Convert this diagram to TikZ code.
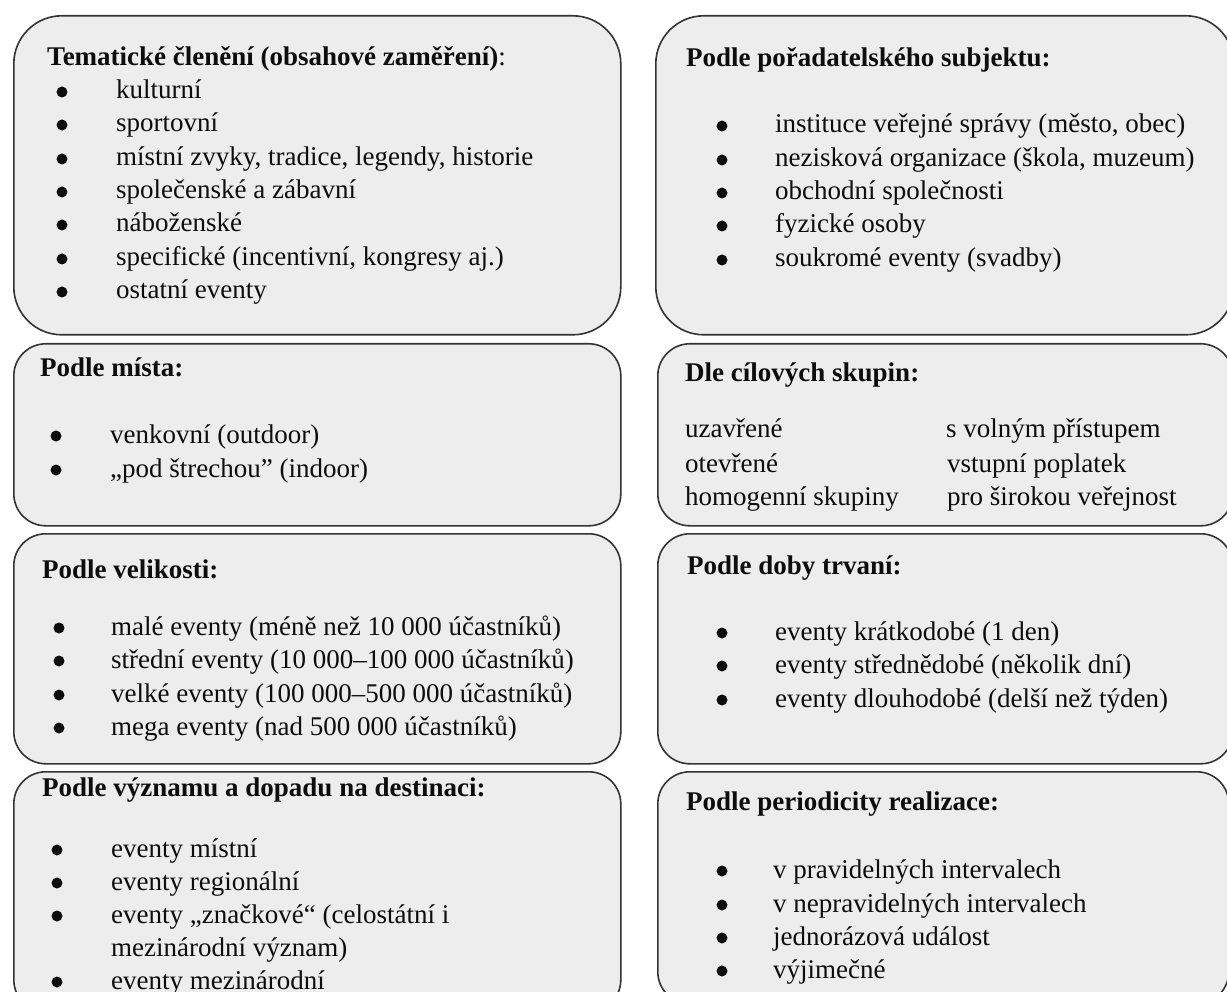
\documentclass[tikz,border=0pt]{standalone}
\usepackage{fontspec}
\setmainfont{Liberation Serif}
\begin{document}
\begin{tikzpicture}[x=1pt,y=-1pt,
  box/.style={draw=black!80, line width=1.6pt, fill=black!7, rectangle, anchor=north west, inner sep=0pt},
  txt/.style={anchor=base west, inner sep=0pt, text=black!95, font=\fontsize{27}{33.5}\selectfont},
  ttl/.style={txt, font=\fontsize{27}{33.5}\selectfont\bfseries},
  dot/.style={circle, fill=black!95, inner sep=0pt, minimum size=11pt}]
\useasboundingbox (0,0) rectangle (1227,992);
\clip (0,0) rectangle (1227,992);
\fill[white] (0,0) rectangle (1227,992);

% boxes
\node[box, rounded corners=48pt, minimum width=607pt, minimum height=319pt] (b1) at (13,15) {};
\node[box, rounded corners=48pt, minimum width=578pt, minimum height=319pt] (b2) at (655,15) {};
\node[box, rounded corners=32pt, minimum width=607pt, minimum height=182pt] (b3) at (13,343) {};
\node[box, rounded corners=32pt, minimum width=575pt, minimum height=182pt] (b4) at (657,343) {};
\node[box, rounded corners=32pt, minimum width=607pt, minimum height=230pt] (b5) at (13,533) {};
\node[box, rounded corners=32pt, minimum width=575pt, minimum height=230pt] (b6) at (657,533) {};
\node[box, rounded corners=32pt, minimum width=607pt, minimum height=240pt] (b7) at (13,771) {};
\node[box, rounded corners=32pt, minimum width=571pt, minimum height=232pt] (b8) at (657,771) {};

% box 1
\node[ttl] (t1) at (47,66) {Tematické členění (obsahové zaměření)\textmd{:}};
\foreach \y/\s [count=\i] in {99/kulturní, 132/sportovní, 166/{místní zvyky, tradice, legendy, historie}, 199/společenské a zábavní, 232/náboženské, 266/{specifické (incentivní, kongresy aj.)}, 299/ostatní eventy}{
  \node[dot] (d1\i) at (62,\y-7) {};
  \node[txt] (i1\i) at (116,\y) {\s};
}

% box 2
\node[ttl] (t2) at (686,67) {Podle pořadatelského subjektu:};
\foreach \y/\s [count=\i] in {133/{instituce veřejné správy (město, obec)}, 167/{nezisková organizace (škola, muzeum)}, 200/obchodní společnosti, 233/fyzické osoby, 267/soukromé eventy (svadby)}{
  \node[dot] (d2\i) at (722,\y-7) {};
  \node[txt] (i2\i) at (775,\y) {\s};
}

% box 3
\node[ttl] (t3) at (40,377) {Podle místa:};
\foreach \y/\s [count=\i] in {443/venkovní (outdoor), 477/„pod štrechou” (indoor)}{
  \node[dot] (d3\i) at (56,\y-7) {};
  \node[txt] (i3\i) at (110,\y) {\s};
}

% box 4
\node[ttl] (t4) at (685,382) {Dle cílových skupin:};
\node[txt] (l41) at (685,438) {uzavřené};
\node[txt] (l42) at (685,472) {otevřené};
\node[txt] (l43) at (685,505) {homogenní skupiny};
\node[txt] (r41) at (946,438) {s volným přístupem};
\node[txt] (r42) at (947,472) {vstupní poplatek};
\node[txt] (r43) at (947,505) {pro širokou veřejnost};

% box 5
\node[ttl] (t5) at (42,578) {Podle velikosti:};
\foreach \y/\s [count=\i] in {635/malé eventy (méně než 10 000 účastníků), 668/střední eventy (10 000–100 000 účastníků), 702/velké eventy (100 000–500 000 účastníků), 735/mega eventy (nad 500 000 účastníků)}{
  \node[dot] (d5\i) at (59,\y-7) {};
  \node[txt] (i5\i) at (111,\y) {\s};
}

% box 6
\node[ttl] (t6) at (687,574) {Podle doby trvaní:};
\foreach \y/\s [count=\i] in {640/eventy krátkodobé (1 den), 673/eventy střednědobé (několik dní), 707/eventy dlouhodobé (delší než týden)}{
  \node[dot] (d6\i) at (722,\y-7) {};
  \node[txt] (i6\i) at (775,\y) {\s};
}

% box 7
\node[ttl] (t7) at (42,796) {Podle významu a dopadu na destinaci:};
\foreach \y/\s [count=\i] in {857/eventy místní, 890/eventy regionální, 923/eventy „značkové“ (celostátní i, 989/eventy mezinárodní}{
  \node[dot] (d7\i) at (57,\y-7) {};
  \node[txt] (i7\i) at (111,\y) {\s};
}
\node[txt] (i7w) at (111,956) {mezinárodní význam)};

% box 8
\node[ttl] (t8) at (686,810) {Podle periodicity realizace:};
\foreach \y/\s [count=\i] in {878/v pravidelných intervalech, 912/v nepravidelných intervalech, 945/jednorázová událost, 978/výjimečné}{
  \node[dot] (d8\i) at (722,\y-7) {};
  \node[txt] (i8\i) at (773,\y) {\s};
}
\end{tikzpicture}
\end{document}
